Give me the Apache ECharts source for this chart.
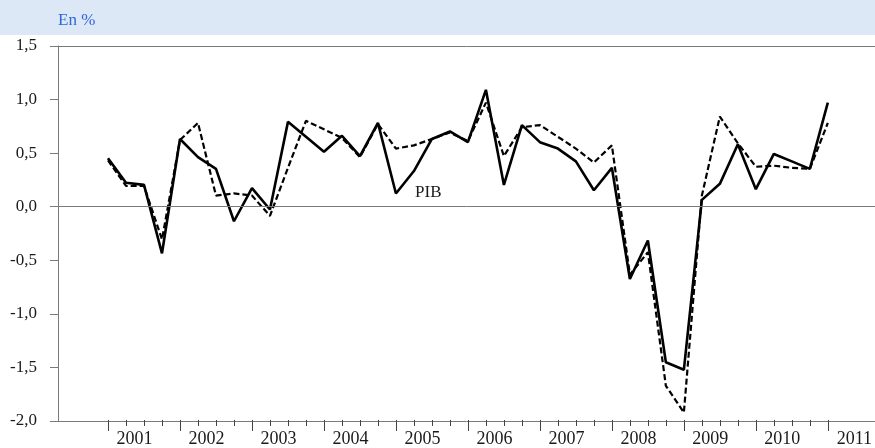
<!DOCTYPE html>
<html>
<head>
<meta charset="utf-8">
<script src="https://cdn.jsdelivr.net/npm/echarts@6/dist/echarts.min.js"></script>
<style>
html,body{margin:0;padding:0;background:#fff;}
#c{width:875px;height:448px;}
</style>
</head>
<body>
<div id="c"></div>
<script>
// Quarterly points, 2001 T1 .. 2011 T1
const years = ['2001','2002','2003','2004','2005','2006','2007','2008','2009','2010','2011'];
const pib = [0.45,0.22,0.20,-0.44,0.63,0.46,0.35,-0.14,0.17,-0.03,
             0.79,0.65,0.51,0.66,0.47,0.78,0.12,0.33,0.63,0.70,
             0.60,1.09,0.20,0.76,0.60,0.54,0.42,0.15,0.36,-0.68,
             -0.32,-1.46,-1.53,0.06,0.21,0.58,0.16,0.49,0.42,0.35,
             0.97];
const dashed = [0.43,0.19,0.19,-0.31,0.62,0.78,0.10,0.12,0.10,-0.09,
                0.36,0.80,0.72,0.64,0.46,0.77,0.54,0.57,0.63,0.69,
                0.61,0.97,0.47,0.74,0.76,0.65,0.54,0.41,0.57,-0.64,
                -0.43,-1.68,-1.93,0.10,0.84,0.59,0.37,0.38,0.36,0.35,
                0.78];
const yTicks = {min:-2, max:1.5, step:0.5};
const pibLabel = {text:'PIB', x:17.8, y:0.13};

const FONT = 'Liberation Serif';
const GRAY = '#7a7a7a';
const TICK = '#444';
const chart = echarts.init(document.getElementById('c'));
const toPts = arr => arr.map((v,i)=>[i,v]);

chart.setOption({
  animation:false,
  backgroundColor:'#ffffff',
  grid:[
    {left:58, right:0, top:46, bottom:27},
    {left:108, right:47, top:46, bottom:27},
    {left:108, right:47, top:421, bottom:17}     // year tick strip (10px)
  ],
  xAxis:[
    {gridIndex:0, type:'value', min:0, max:1, position:'bottom',
     axisLine:{show:true, onZero:false, lineStyle:{color:GRAY,width:1}}, axisTick:{show:false}, axisLabel:{show:false}, splitLine:{show:false}},
    {gridIndex:0, type:'value', min:0, max:1, position:'top',
     axisLine:{show:true, onZero:false, lineStyle:{color:GRAY,width:1}}, axisTick:{show:false}, axisLabel:{show:false}, splitLine:{show:false}},
    {gridIndex:1, type:'value', min:0, max:40, interval:4, position:'bottom',
     axisLine:{show:false, onZero:false}, splitLine:{show:false}, axisTick:{show:false},
     axisLabel:{show:true, margin:10, color:'#1a1a1a', fontFamily:FONT, fontSize:18,
       formatter:function(v){ return '{a|'+years[Math.round(v/4)]+'}'; },
       rich:{ a:{fontFamily:FONT, fontSize:18, color:'#1a1a1a', padding:[0,0,0,53]} }}},
    {gridIndex:2, type:'value', min:0, max:40, interval:4,
     axisLine:{show:false, onZero:false}, axisTick:{show:false}, axisLabel:{show:false},
     splitLine:{show:true, lineStyle:{color:TICK, width:1}}}
  ],
  yAxis:[
    {gridIndex:0, type:'value', min:yTicks.min, max:yTicks.max, interval:yTicks.step,
     axisLine:{show:true, onZero:false, lineStyle:{color:GRAY,width:1}},
     axisTick:{show:true, length:8, lineStyle:{color:GRAY,width:1}},
     splitLine:{show:false},
     axisLabel:{margin:21, color:'#1a1a1a', fontFamily:FONT, fontSize:17,
       formatter:v=>v.toFixed(1).replace('.',',')}},
    {gridIndex:1, type:'value', min:yTicks.min, max:yTicks.max, interval:yTicks.step, show:false},
    {gridIndex:2, type:'value', min:0, max:1, show:false}
  ],
  series:[
    {type:'line', xAxisIndex:0, yAxisIndex:0, data:[], silent:true,
     markLine:{silent:true, symbol:'none', label:{show:false},
       lineStyle:{color:GRAY, width:1, type:'solid'}, data:[{yAxis:0}]}},
    {type:'line', xAxisIndex:3, yAxisIndex:2, data:[], silent:true},
    // quarter ticks under the axis, placed through the x scale
    {type:'custom', xAxisIndex:2, yAxisIndex:1, clip:false, silent:true, z:20,
     data:pib.map((v,i)=>[i, yTicks.min]),
     renderItem:function(params, api){
       const p = api.coord([api.value(0), api.value(1)]);
       const x = Math.round(p[0]) + 0.5;
       return {type:'line', shape:{x1:x, y1:p[1], x2:x, y2:p[1]+6},
               style:{stroke:TICK, lineWidth:1}};
     }},
    {name:'dashed', type:'line', xAxisIndex:2, yAxisIndex:1, data:toPts(dashed),
     showSymbol:false, symbol:'none', lineStyle:{color:'#000', width:2.2, type:[6,3]}, z:3},
    {name:'PIB', type:'line', xAxisIndex:2, yAxisIndex:1, data:toPts(pib),
     showSymbol:false, symbol:'none', lineStyle:{color:'#000', width:2.6}, z:4,
     markPoint:{symbol:'circle', symbolSize:0, silent:true,
       label:{show:true, formatter:pibLabel.text, color:'#1a1a1a', fontFamily:FONT, fontSize:17, position:'inside'},
       data:[{coord:[pibLabel.x, pibLabel.y]}]}}
  ],
  graphic:[
    {type:'rect', left:0, top:0, shape:{width:875,height:35}, style:{fill:'#dde8f7'}, z:-1},
    {type:'text', left:58, top:12, style:{text:'En %', fill:'#2e67d6', font:'17px "Liberation Serif"'}}
  ]
});
</script>
</body>
</html>
